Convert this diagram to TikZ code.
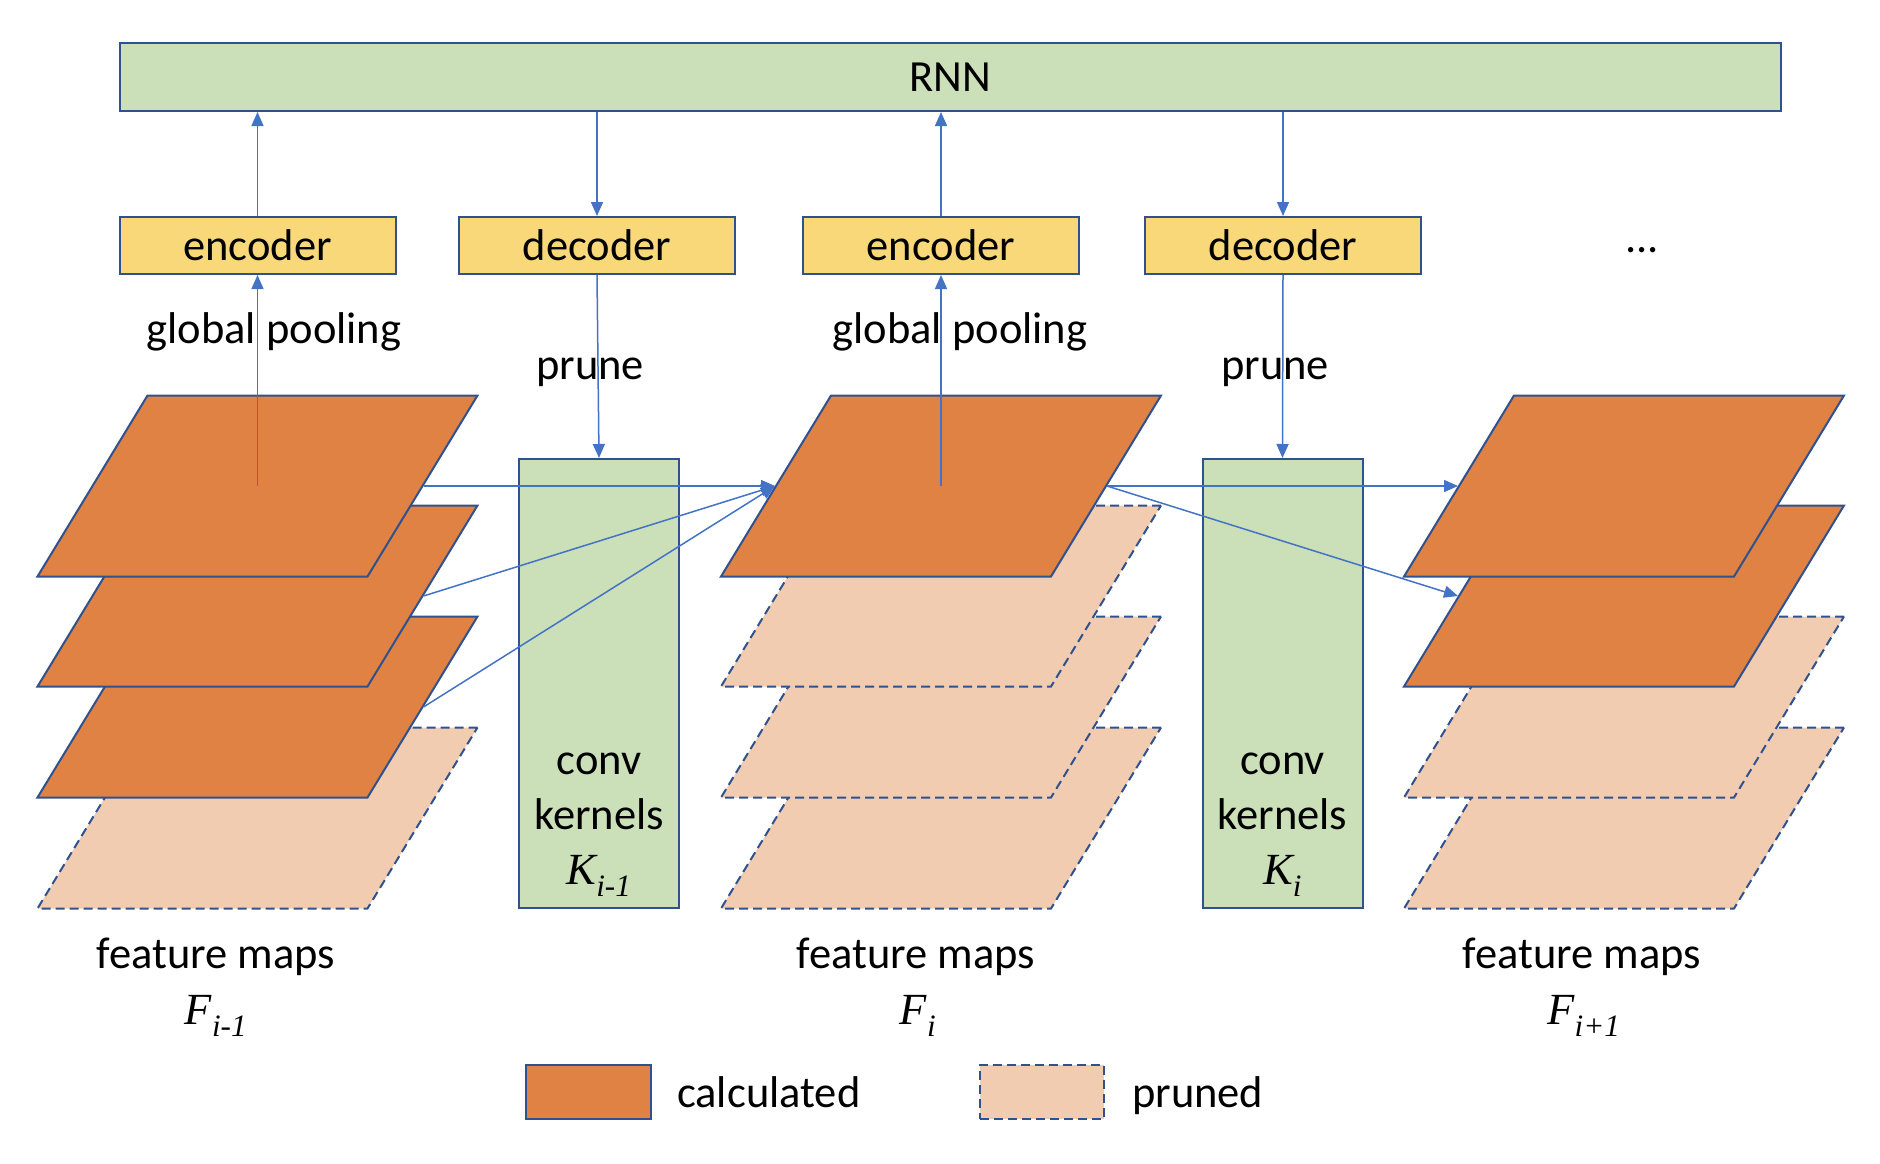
\documentclass[tikz,border=0pt]{standalone}
\usepackage{fontspec}
\setmainfont{Carlito}
\newfontfamily\varfont{Liberation Serif}
\usepackage{tikz}
\usetikzlibrary{shapes, arrows.meta, positioning, shapes.geometric}
\definecolor{boxgreen}{RGB}{203,223,185}
\definecolor{codeyellow}{RGB}{249,216,122}
\definecolor{calcorange}{RGB}{223,130,68}
\definecolor{prunedpeach}{RGB}{241,204,176}
\definecolor{edgeblue}{RGB}{47,82,143}
\definecolor{arrowblue}{RGB}{68,114,196}
\tikzset{%
  every node/.style={font=\fontsize{44.5}{52}\selectfont, inner sep=0pt},
  greenblock/.style={rectangle, draw=edgeblue, fill=boxgreen, line width=2pt},
  codeblock/.style={rectangle, draw=edgeblue, fill=codeyellow, line width=2pt, minimum width=276, minimum height=57},
  layer/.style={rectangle, xslant=0.6077, transform shape, minimum width=330, minimum height=181, line width=2pt},
  calclayer/.style={layer, draw=edgeblue, fill=calcorange},
  prunedlayer/.style={layer, draw=edgeblue, fill=prunedpeach, dash pattern=on 9pt off 5pt},
  line/.style={draw=arrowblue, line width=1.5pt, -{Triangle[length=14pt, width=12pt]}}}
\newcommand{\fvar}[2]{{\varfont\itshape #1\textsubscript{#2}}}

\begin{document}
\begin{tikzpicture}[x=1pt, y=-1pt]
    \useasboundingbox (0, 0) rectangle (1880, 1164);

    \node [greenblock, minimum width=1661, minimum height=68] (rnn) at (950.5, 77) {RNN};

    \node [codeblock] (enc1) at (257.5, 245.5) {encoder};
    \node [codeblock] (dec1) at (597, 245.5) {decoder};
    \node [codeblock] (enc2) at (941, 245.5) {encoder};
    \node [codeblock] (dec2) at (1283, 245.5) {decoder};
    \node [anchor=base] (more) at (1642, 252) {...};

    \node [anchor=base] (pool1) at (274, 343) {global pooling};
    \node [anchor=base] (pool2) at (960, 343) {global pooling};
    \node [anchor=base] (prune1) at (590, 379) {prune};
    \node [anchor=base] (prune2) at (1275, 379) {prune};

    % feature maps F_{i-1}
    \node [prunedlayer] (a4) at (257.5, 818) {};
    \foreach \k/\y in {3/707, 2/596, 1/486}
      \node [calclayer] (a\k) at (257.5, \y) {};

    % feature maps F_i
    \foreach \k/\y in {4/818, 3/707, 2/596}
      \node [prunedlayer] (b\k) at (941, \y) {};
    \node [calclayer] (b1) at (941, 486) {};

    % feature maps F_{i+1}
    \foreach \k/\y in {4/818, 3/707}
      \node [prunedlayer] (c\k) at (1624, \y) {};
    \foreach \k/\y in {2/596, 1/486}
      \node [calclayer] (c\k) at (1624, \y) {};

    \node [greenblock, minimum width=160, minimum height=449] (conv1) at (599, 683.5) {};
    \node [greenblock, minimum width=160, minimum height=449] (conv2) at (1282.5, 683.5) {};
    \node [align=center, font=\fontsize{44.5}{55}\selectfont] (kern1) at (599, 825) {conv\\kernels\\\fvar{K}{i-1}};
    \node [align=center, font=\fontsize{44.5}{55}\selectfont] (kern2) at (1282.5, 825) {conv\\kernels\\\fvar{K}{i}};

    \path [line] (a1.center) -- (enc1.south);
    \path [line] (enc1.north) -- (enc1.north |- rnn.south);
    \path [line] (b1.center) -- (enc2.south);
    \path [line] (enc2.north) -- (enc2.north |- rnn.south);
    \path [line] (dec1.north |- rnn.south) -- (dec1.north);
    \path [line] (dec2.north |- rnn.south) -- (dec2.north);
    \path [line] (dec1.south) -- (conv1.north);
    \path [line] (dec2.south) -- (conv2.north);

    \foreach \k in {1, 2, 3}
      \path [line] (a\k.east) -- (b1.west);
    \path [line] (b1.east) -- (c1.west);
    \path [line] (b1.east) -- (c2.west);

    \node [anchor=base] (fm1) at (216, 968) {feature maps};
    \node [anchor=base] (fm2) at (916, 968) {feature maps};
    \node [anchor=base] (fm3) at (1582, 968) {feature maps};
    \node [anchor=base] (fv1) at (216, 1024) {\fvar{F}{i-1}};
    \node [anchor=base] (fv2) at (918, 1024) {\fvar{F}{i}};
    \node [anchor=base] (fv3) at (1584, 1024) {\fvar{F}{i+1}};

    % legend
    \node [rectangle, draw=edgeblue, fill=calcorange, line width=2pt, minimum width=125, minimum height=54] (legcalc) at (588.5, 1092) {};
    \node [anchor=base west] (calctext) at (677, 1107) {calculated};
    \node [rectangle, draw=edgeblue, fill=prunedpeach, line width=2pt, dash pattern=on 9pt off 5pt, minimum width=124, minimum height=54] (legpruned) at (1042, 1092) {};
    \node [anchor=base west] (prunedtext) at (1132, 1107) {pruned};
  \end{tikzpicture}
\end{document}
